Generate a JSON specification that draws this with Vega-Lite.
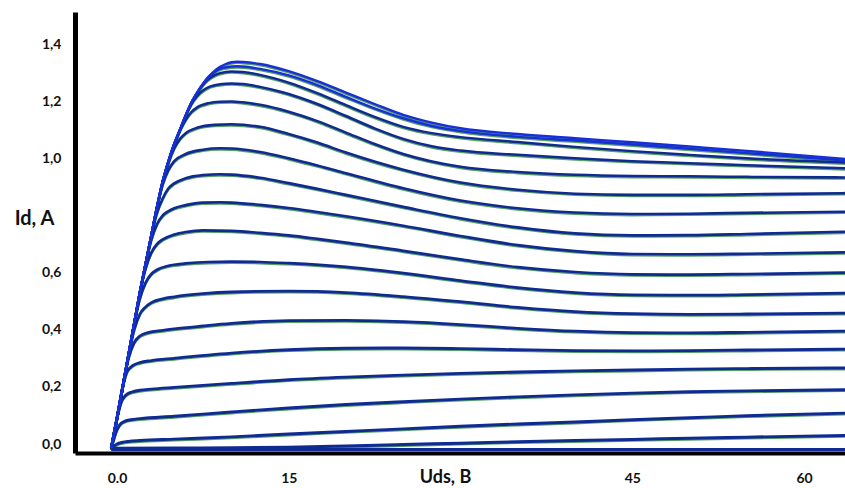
{
"$schema": "https://vega.github.io/schema/vega-lite/v6.json",
"width": 770, "height": 441,
"autosize": {"type": "none"},
"padding": {"left": 75, "top": 12, "right": 0, "bottom": 35},
"background": "white",
"config": {"view": {"stroke": null}, "axis": {"grid": false}},
"data": {"values": [
{"c":0,"x":-0.5,"y":-0.019},{"c":0,"x":30,"y":-0.019},{"c":0,"x":63.6,"y":-0.019},
{"c":1,"x":-0.5,"y":-0.015},{"c":1,"x":5,"y":-0.014},{"c":1,"x":10,"y":-0.013},{"c":1,"x":15,"y":-0.011},{"c":1,"x":20,"y":-0.007},{"c":1,"x":25,"y":-0.002},{"c":1,"x":30,"y":0.003},{"c":1,"x":35,"y":0.008},{"c":1,"x":40,"y":0.012},{"c":1,"x":45,"y":0.016},{"c":1,"x":50,"y":0.02},{"c":1,"x":55,"y":0.024},{"c":1,"x":63.6,"y":0.03},
{"c":2,"x":-0.5,"y":-0.015},{"c":2,"x":0,"y":0.0},{"c":2,"x":0.5,"y":0.006},{"c":2,"x":1,"y":0.009},{"c":2,"x":2,"y":0.012},{"c":2,"x":5,"y":0.017},{"c":2,"x":10,"y":0.025},{"c":2,"x":15,"y":0.035},{"c":2,"x":20,"y":0.044},{"c":2,"x":25,"y":0.053},{"c":2,"x":30,"y":0.062},{"c":2,"x":35,"y":0.07},{"c":2,"x":40,"y":0.077},{"c":2,"x":45,"y":0.085},{"c":2,"x":50,"y":0.092},{"c":2,"x":55,"y":0.099},{"c":2,"x":63.6,"y":0.108},
{"c":3,"x":-0.5,"y":-0.015},{"c":3,"x":0,"y":0.05},{"c":3,"x":0.3,"y":0.07},{"c":3,"x":0.7,"y":0.08},{"c":3,"x":1.2,"y":0.085},{"c":3,"x":2,"y":0.089},{"c":3,"x":5,"y":0.097},{"c":3,"x":10,"y":0.112},{"c":3,"x":15,"y":0.126},{"c":3,"x":20,"y":0.138},{"c":3,"x":25,"y":0.148},{"c":3,"x":30,"y":0.157},{"c":3,"x":35,"y":0.165},{"c":3,"x":40,"y":0.172},{"c":3,"x":45,"y":0.178},{"c":3,"x":50,"y":0.183},{"c":3,"x":55,"y":0.186},{"c":3,"x":63.6,"y":0.19},
{"c":4,"x":-0.5,"y":-0.015},{"c":4,"x":0,"y":0.09},{"c":4,"x":0.4,"y":0.15},{"c":4,"x":0.8,"y":0.172},{"c":4,"x":1.3,"y":0.182},{"c":4,"x":2,"y":0.188},{"c":4,"x":3,"y":0.192},{"c":4,"x":5,"y":0.198},{"c":4,"x":10,"y":0.212},{"c":4,"x":15,"y":0.225},{"c":4,"x":20,"y":0.234},{"c":4,"x":25,"y":0.241},{"c":4,"x":30,"y":0.247},{"c":4,"x":35,"y":0.252},{"c":4,"x":40,"y":0.256},{"c":4,"x":45,"y":0.259},{"c":4,"x":50,"y":0.262},{"c":4,"x":55,"y":0.264},{"c":4,"x":63.6,"y":0.266},
{"c":5,"x":-0.5,"y":-0.015},{"c":5,"x":0,"y":0.09},{"c":5,"x":0.5,"y":0.2},{"c":5,"x":0.9,"y":0.255},{"c":5,"x":1.4,"y":0.275},{"c":5,"x":2,"y":0.285},{"c":5,"x":3,"y":0.292},{"c":5,"x":5,"y":0.3},{"c":5,"x":10,"y":0.318},{"c":5,"x":15,"y":0.33},{"c":5,"x":20,"y":0.335},{"c":5,"x":25,"y":0.336},{"c":5,"x":30,"y":0.334},{"c":5,"x":35,"y":0.33},{"c":5,"x":40,"y":0.327},{"c":5,"x":45,"y":0.326},{"c":5,"x":50,"y":0.327},{"c":5,"x":55,"y":0.329},{"c":5,"x":63.6,"y":0.332},
{"c":6,"x":-0.5,"y":-0.015},{"c":6,"x":0,"y":0.09},{"c":6,"x":0.5,"y":0.2},{"c":6,"x":1,"y":0.3},{"c":6,"x":1.5,"y":0.355},{"c":6,"x":2,"y":0.378},{"c":6,"x":2.7,"y":0.39},{"c":6,"x":4,"y":0.398},{"c":6,"x":5,"y":0.403},{"c":6,"x":7.5,"y":0.413},{"c":6,"x":10,"y":0.422},{"c":6,"x":15,"y":0.432},{"c":6,"x":20,"y":0.433},{"c":6,"x":25,"y":0.428},{"c":6,"x":30,"y":0.418},{"c":6,"x":35,"y":0.405},{"c":6,"x":40,"y":0.395},{"c":6,"x":45,"y":0.39},{"c":6,"x":50,"y":0.389},{"c":6,"x":55,"y":0.391},{"c":6,"x":63.6,"y":0.395},
{"c":7,"x":-0.5,"y":-0.015},{"c":7,"x":0,"y":0.09},{"c":7,"x":0.5,"y":0.2},{"c":7,"x":1,"y":0.31},{"c":7,"x":1.5,"y":0.4},{"c":7,"x":2,"y":0.455},{"c":7,"x":2.5,"y":0.48},{"c":7,"x":3,"y":0.495},{"c":7,"x":4,"y":0.508},{"c":7,"x":5,"y":0.515},{"c":7,"x":7.5,"y":0.526},{"c":7,"x":10,"y":0.532},{"c":7,"x":15,"y":0.535},{"c":7,"x":20,"y":0.53},{"c":7,"x":25,"y":0.516},{"c":7,"x":30,"y":0.498},{"c":7,"x":35,"y":0.478},{"c":7,"x":40,"y":0.463},{"c":7,"x":45,"y":0.456},{"c":7,"x":50,"y":0.454},{"c":7,"x":55,"y":0.455},{"c":7,"x":63.6,"y":0.458},
{"c":8,"x":-0.5,"y":-0.015},{"c":8,"x":0,"y":0.09},{"c":8,"x":0.5,"y":0.2},{"c":8,"x":1,"y":0.31},{"c":8,"x":1.5,"y":0.42},{"c":8,"x":2,"y":0.51},{"c":8,"x":2.5,"y":0.565},{"c":8,"x":3,"y":0.595},{"c":8,"x":3.5,"y":0.61},{"c":8,"x":4.5,"y":0.624},{"c":8,"x":6,"y":0.632},{"c":8,"x":8,"y":0.637},{"c":8,"x":10,"y":0.638},{"c":8,"x":12.5,"y":0.637},{"c":8,"x":15,"y":0.633},{"c":8,"x":20,"y":0.62},{"c":8,"x":25,"y":0.598},{"c":8,"x":30,"y":0.572},{"c":8,"x":35,"y":0.547},{"c":8,"x":40,"y":0.53},{"c":8,"x":45,"y":0.522},{"c":8,"x":50,"y":0.521},{"c":8,"x":55,"y":0.523},{"c":8,"x":63.6,"y":0.528},
{"c":9,"x":-0.5,"y":-0.015},{"c":9,"x":0,"y":0.09},{"c":9,"x":0.5,"y":0.2},{"c":9,"x":1,"y":0.31},{"c":9,"x":1.5,"y":0.42},{"c":9,"x":2,"y":0.53},{"c":9,"x":2.5,"y":0.615},{"c":9,"x":3,"y":0.67},{"c":9,"x":3.5,"y":0.7},{"c":9,"x":4,"y":0.716},{"c":9,"x":5,"y":0.733},{"c":9,"x":6,"y":0.742},{"c":9,"x":7.5,"y":0.748},{"c":9,"x":10,"y":0.746},{"c":9,"x":12.5,"y":0.739},{"c":9,"x":15,"y":0.73},{"c":9,"x":17.5,"y":0.718},{"c":9,"x":20,"y":0.705},{"c":9,"x":25,"y":0.676},{"c":9,"x":30,"y":0.646},{"c":9,"x":35,"y":0.619},{"c":9,"x":40,"y":0.602},{"c":9,"x":45,"y":0.594},{"c":9,"x":50,"y":0.593},{"c":9,"x":55,"y":0.595},{"c":9,"x":63.6,"y":0.6},
{"c":10,"x":-0.5,"y":-0.015},{"c":10,"x":0,"y":0.09},{"c":10,"x":0.5,"y":0.2},{"c":10,"x":1,"y":0.31},{"c":10,"x":1.5,"y":0.42},{"c":10,"x":2,"y":0.53},{"c":10,"x":2.5,"y":0.63},{"c":10,"x":3,"y":0.715},{"c":10,"x":3.5,"y":0.77},{"c":10,"x":4,"y":0.8},{"c":10,"x":4.5,"y":0.815},{"c":10,"x":5,"y":0.825},{"c":10,"x":6,"y":0.836},{"c":10,"x":7.5,"y":0.845},{"c":10,"x":9,"y":0.846},{"c":10,"x":10,"y":0.845},{"c":10,"x":12.5,"y":0.837},{"c":10,"x":15,"y":0.826},{"c":10,"x":17.5,"y":0.812},{"c":10,"x":20,"y":0.797},{"c":10,"x":25,"y":0.764},{"c":10,"x":30,"y":0.728},{"c":10,"x":35,"y":0.696},{"c":10,"x":40,"y":0.675},{"c":10,"x":45,"y":0.665},{"c":10,"x":50,"y":0.664},{"c":10,"x":55,"y":0.666},{"c":10,"x":63.6,"y":0.671},
{"c":11,"x":-0.5,"y":-0.015},{"c":11,"x":0,"y":0.09},{"c":11,"x":0.5,"y":0.2},{"c":11,"x":1,"y":0.31},{"c":11,"x":1.5,"y":0.42},{"c":11,"x":2,"y":0.53},{"c":11,"x":2.5,"y":0.63},{"c":11,"x":3,"y":0.73},{"c":11,"x":3.5,"y":0.81},{"c":11,"x":4,"y":0.86},{"c":11,"x":4.5,"y":0.895},{"c":11,"x":5,"y":0.912},{"c":11,"x":6,"y":0.93},{"c":11,"x":7.5,"y":0.941},{"c":11,"x":9,"y":0.944},{"c":11,"x":10,"y":0.943},{"c":11,"x":12.5,"y":0.932},{"c":11,"x":15,"y":0.913},{"c":11,"x":17.5,"y":0.893},{"c":11,"x":20,"y":0.872},{"c":11,"x":25,"y":0.83},{"c":11,"x":30,"y":0.79},{"c":11,"x":35,"y":0.758},{"c":11,"x":40,"y":0.737},{"c":11,"x":45,"y":0.73},{"c":11,"x":50,"y":0.731},{"c":11,"x":55,"y":0.735},{"c":11,"x":63.6,"y":0.743},
{"c":12,"x":-0.5,"y":-0.015},{"c":12,"x":0,"y":0.09},{"c":12,"x":0.5,"y":0.2},{"c":12,"x":1,"y":0.31},{"c":12,"x":1.5,"y":0.42},{"c":12,"x":2,"y":0.53},{"c":12,"x":2.5,"y":0.63},{"c":12,"x":3,"y":0.73},{"c":12,"x":3.5,"y":0.83},{"c":12,"x":4,"y":0.91},{"c":12,"x":4.5,"y":0.96},{"c":12,"x":5,"y":0.99},{"c":12,"x":6,"y":1.015},{"c":12,"x":7.5,"y":1.03},{"c":12,"x":9,"y":1.035},{"c":12,"x":10,"y":1.034},{"c":12,"x":12.5,"y":1.022},{"c":12,"x":15,"y":1.0},{"c":12,"x":17.5,"y":0.975},{"c":12,"x":20,"y":0.948},{"c":12,"x":25,"y":0.895},{"c":12,"x":30,"y":0.852},{"c":12,"x":35,"y":0.825},{"c":12,"x":40,"y":0.81},{"c":12,"x":45,"y":0.805},{"c":12,"x":50,"y":0.806},{"c":12,"x":55,"y":0.809},{"c":12,"x":63.6,"y":0.813},
{"c":13,"x":-0.5,"y":-0.015},{"c":13,"x":0,"y":0.09},{"c":13,"x":0.5,"y":0.2},{"c":13,"x":1,"y":0.31},{"c":13,"x":1.5,"y":0.42},{"c":13,"x":2,"y":0.53},{"c":13,"x":2.5,"y":0.63},{"c":13,"x":3,"y":0.73},{"c":13,"x":3.5,"y":0.83},{"c":13,"x":4,"y":0.92},{"c":13,"x":4.5,"y":0.985},{"c":13,"x":5,"y":1.035},{"c":13,"x":5.5,"y":1.068},{"c":13,"x":6,"y":1.088},{"c":13,"x":7,"y":1.107},{"c":13,"x":8.5,"y":1.117},{"c":13,"x":10,"y":1.119},{"c":13,"x":12.5,"y":1.11},{"c":13,"x":15,"y":1.085},{"c":13,"x":17.5,"y":1.055},{"c":13,"x":20,"y":1.02},{"c":13,"x":25,"y":0.96},{"c":13,"x":30,"y":0.915},{"c":13,"x":35,"y":0.89},{"c":13,"x":40,"y":0.876},{"c":13,"x":45,"y":0.872},{"c":13,"x":50,"y":0.872},{"c":13,"x":55,"y":0.874},{"c":13,"x":63.6,"y":0.878},
{"c":14,"x":-0.5,"y":-0.015},{"c":14,"x":0,"y":0.09},{"c":14,"x":0.5,"y":0.2},{"c":14,"x":1,"y":0.31},{"c":14,"x":1.5,"y":0.42},{"c":14,"x":2,"y":0.53},{"c":14,"x":2.5,"y":0.63},{"c":14,"x":3,"y":0.73},{"c":14,"x":3.5,"y":0.83},{"c":14,"x":4,"y":0.92},{"c":14,"x":4.5,"y":0.99},{"c":14,"x":5,"y":1.05},{"c":14,"x":5.5,"y":1.097},{"c":14,"x":6,"y":1.135},{"c":14,"x":6.5,"y":1.162},{"c":14,"x":7,"y":1.178},{"c":14,"x":8,"y":1.193},{"c":14,"x":9,"y":1.198},{"c":14,"x":10,"y":1.199},{"c":14,"x":11,"y":1.196},{"c":14,"x":12.5,"y":1.187},{"c":14,"x":15,"y":1.163},{"c":14,"x":17.5,"y":1.13},{"c":14,"x":20,"y":1.09},{"c":14,"x":22.5,"y":1.05},{"c":14,"x":25,"y":1.015},{"c":14,"x":30,"y":0.97},{"c":14,"x":35,"y":0.952},{"c":14,"x":40,"y":0.942},{"c":14,"x":45,"y":0.938},{"c":14,"x":50,"y":0.937},{"c":14,"x":55,"y":0.935},{"c":14,"x":63.6,"y":0.933},
{"c":15,"x":-0.5,"y":-0.015},{"c":15,"x":0,"y":0.09},{"c":15,"x":0.5,"y":0.2},{"c":15,"x":1,"y":0.31},{"c":15,"x":1.5,"y":0.42},{"c":15,"x":2,"y":0.53},{"c":15,"x":2.5,"y":0.63},{"c":15,"x":3,"y":0.73},{"c":15,"x":3.5,"y":0.83},{"c":15,"x":4,"y":0.92},{"c":15,"x":4.5,"y":0.99},{"c":15,"x":5,"y":1.05},{"c":15,"x":5.5,"y":1.1},{"c":15,"x":6,"y":1.15},{"c":15,"x":6.5,"y":1.19},{"c":15,"x":7,"y":1.218},{"c":15,"x":7.5,"y":1.237},{"c":15,"x":8,"y":1.249},{"c":15,"x":9,"y":1.259},{"c":15,"x":10,"y":1.262},{"c":15,"x":11,"y":1.26},{"c":15,"x":12.5,"y":1.25},{"c":15,"x":14.2,"y":1.234},{"c":15,"x":15,"y":1.225},{"c":15,"x":17.5,"y":1.19},{"c":15,"x":20,"y":1.148},{"c":15,"x":22.5,"y":1.105},{"c":15,"x":25,"y":1.068},{"c":15,"x":27.5,"y":1.042},{"c":15,"x":30,"y":1.027},{"c":15,"x":35,"y":1.012},{"c":15,"x":40,"y":1.0},{"c":15,"x":45,"y":0.99},{"c":15,"x":50,"y":0.983},{"c":15,"x":55,"y":0.976},{"c":15,"x":63.6,"y":0.965},
{"c":16,"x":-0.5,"y":-0.015},{"c":16,"x":0,"y":0.09},{"c":16,"x":0.5,"y":0.2},{"c":16,"x":1,"y":0.31},{"c":16,"x":1.5,"y":0.42},{"c":16,"x":2,"y":0.53},{"c":16,"x":2.5,"y":0.63},{"c":16,"x":3,"y":0.73},{"c":16,"x":3.5,"y":0.83},{"c":16,"x":4,"y":0.92},{"c":16,"x":4.5,"y":0.99},{"c":16,"x":5,"y":1.05},{"c":16,"x":5.5,"y":1.1},{"c":16,"x":6,"y":1.15},{"c":16,"x":6.5,"y":1.195},{"c":16,"x":7,"y":1.23},{"c":16,"x":7.5,"y":1.257},{"c":16,"x":8,"y":1.277},{"c":16,"x":8.5,"y":1.29},{"c":16,"x":9,"y":1.298},{"c":16,"x":10,"y":1.304},{"c":16,"x":11,"y":1.302},{"c":16,"x":12.5,"y":1.292},{"c":16,"x":15,"y":1.265},{"c":16,"x":17.5,"y":1.228},{"c":16,"x":20,"y":1.186},{"c":16,"x":22.5,"y":1.145},{"c":16,"x":25,"y":1.11},{"c":16,"x":27.5,"y":1.088},{"c":16,"x":30,"y":1.074},{"c":16,"x":35,"y":1.057},{"c":16,"x":40,"y":1.04},{"c":16,"x":45,"y":1.025},{"c":16,"x":50,"y":1.012},{"c":16,"x":55,"y":1.0},{"c":16,"x":63.6,"y":0.985},
{"c":17,"x":-0.5,"y":-0.015},{"c":17,"x":0,"y":0.09},{"c":17,"x":0.5,"y":0.2},{"c":17,"x":1,"y":0.31},{"c":17,"x":1.5,"y":0.42},{"c":17,"x":2,"y":0.53},{"c":17,"x":2.5,"y":0.63},{"c":17,"x":3,"y":0.73},{"c":17,"x":3.5,"y":0.83},{"c":17,"x":4,"y":0.92},{"c":17,"x":4.5,"y":0.99},{"c":17,"x":5,"y":1.05},{"c":17,"x":5.5,"y":1.1},{"c":17,"x":6,"y":1.15},{"c":17,"x":6.5,"y":1.195},{"c":17,"x":7,"y":1.23},{"c":17,"x":7.5,"y":1.26},{"c":17,"x":8,"y":1.285},{"c":17,"x":8.5,"y":1.302},{"c":17,"x":9,"y":1.313},{"c":17,"x":10,"y":1.321},{"c":17,"x":10.5,"y":1.322},{"c":17,"x":11,"y":1.321},{"c":17,"x":12.5,"y":1.313},{"c":17,"x":15,"y":1.29},{"c":17,"x":17.5,"y":1.256},{"c":17,"x":20,"y":1.215},{"c":17,"x":22.5,"y":1.175},{"c":17,"x":25,"y":1.14},{"c":17,"x":27.5,"y":1.113},{"c":17,"x":30,"y":1.095},{"c":17,"x":35,"y":1.075},{"c":17,"x":40,"y":1.062},{"c":17,"x":45,"y":1.048},{"c":17,"x":50,"y":1.033},{"c":17,"x":55,"y":1.018},{"c":17,"x":63.6,"y":0.992},
{"c":18,"x":-0.5,"y":-0.015},{"c":18,"x":0,"y":0.09},{"c":18,"x":0.5,"y":0.2},{"c":18,"x":1,"y":0.31},{"c":18,"x":1.5,"y":0.42},{"c":18,"x":2,"y":0.53},{"c":18,"x":2.5,"y":0.63},{"c":18,"x":3,"y":0.73},{"c":18,"x":3.5,"y":0.83},{"c":18,"x":4,"y":0.92},{"c":18,"x":4.5,"y":0.99},{"c":18,"x":5,"y":1.05},{"c":18,"x":5.5,"y":1.1},{"c":18,"x":6,"y":1.15},{"c":18,"x":6.5,"y":1.195},{"c":18,"x":7,"y":1.23},{"c":18,"x":7.5,"y":1.26},{"c":18,"x":8,"y":1.285},{"c":18,"x":8.5,"y":1.305},{"c":18,"x":9,"y":1.32},{"c":18,"x":9.5,"y":1.33},{"c":18,"x":10,"y":1.336},{"c":18,"x":10.5,"y":1.338},{"c":18,"x":11,"y":1.337},{"c":18,"x":12.5,"y":1.33},{"c":18,"x":15,"y":1.305},{"c":18,"x":17.5,"y":1.27},{"c":18,"x":20,"y":1.23},{"c":18,"x":22.5,"y":1.19},{"c":18,"x":25,"y":1.152},{"c":18,"x":27.5,"y":1.125},{"c":18,"x":30,"y":1.105},{"c":18,"x":35,"y":1.085},{"c":18,"x":40,"y":1.07},{"c":18,"x":45,"y":1.056},{"c":18,"x":50,"y":1.041},{"c":18,"x":55,"y":1.026},{"c":18,"x":63.6,"y":0.998}
]},
"encoding": {
  "x": {"field": "x", "type": "quantitative",
    "scale": {"domain": [-3.668, 63.58], "nice": false, "zero": false},
    "axis": {"values": [0, 15, 45, 60], "labelExpr": "datum.value == 0 ? '0.0' : datum.label",
      "domainColor": "#000", "domainWidth": 4, "ticks": false, "tickSize": 0,
      "labelFont": "Lato", "labelFontWeight": "bold", "labelFontSize": 14, "labelColor": "#111",
      "labelPadding": 18, "labelFlush": false,
      "title": "Uds, B", "titleFont": "Lato", "titleFontSize": 18, "titleFontWeight": "bold", "titleColor": "#111",
      "titleX": 370, "titleY": 24, "titleAlign": "center", "titleBaseline": "middle"}},
  "y": {"field": "y", "type": "quantitative",
    "scale": {"domain": [-0.0315, 1.512], "nice": false, "zero": false},
    "axis": {"values": [0, 0.2, 0.4, 0.6, 1.0, 1.2, 1.4], "format": ".1f", "labelExpr": "replace(datum.label, '.', ',')",
      "domainColor": "#000", "domainWidth": 5, "ticks": false, "tickSize": 0,
      "labelFont": "Lato", "labelFontWeight": "bold", "labelFontSize": 14, "labelColor": "#111",
      "labelPadding": 14, "labelFlush": false,
      "title": "Id, A", "titleFont": "Lato", "titleFontSize": 20, "titleFontWeight": "bold", "titleColor": "#111",
      "titleAngle": 0, "titleX": -41, "titleY": 206, "titleAlign": "center", "titleBaseline": "middle"}}
},
"layer": [
  {"mark": {"type": "line", "interpolate": "monotone", "clip": true, "strokeWidth": 2.4, "color": "#2e8a3c", "opacity": 0.8, "yOffset": 1.2},
   "encoding": {"detail": {"field": "c", "type": "nominal"}}},
  {"mark": {"type": "line", "interpolate": "monotone", "clip": true},
   "encoding": {
     "color": {"field": "c", "type": "nominal", "legend": null,
      "scale": {"domain": [0,1,2,3,4,5,6,7,8,9,10,11,12,13,14,15,16,17,18],
        "range": ["#0f2a90","#0f2a90","#0f2a90","#0f2a90","#0f2a90","#0f2a90","#0f2a90","#0f2a90","#0f2a90","#0f2a90","#0f2a90","#0f2a90","#0f2a90","#0f2a90","#0f2a90","#0f2a90","#0f2a90","#1630d6","#1630d6"]}},
     "strokeWidth": {"field": "c", "type": "nominal", "legend": null,
      "scale": {"domain": [0,1,2,3,4,5,6,7,8,9,10,11,12,13,14,15,16,17,18],
        "range": [3,2.4,2.4,2.4,2.4,2.4,2.4,2.4,2.4,2.4,2.4,2.4,2.4,2.4,2.4,2.4,2.4,3.2,3.6]}}}}
]
}
